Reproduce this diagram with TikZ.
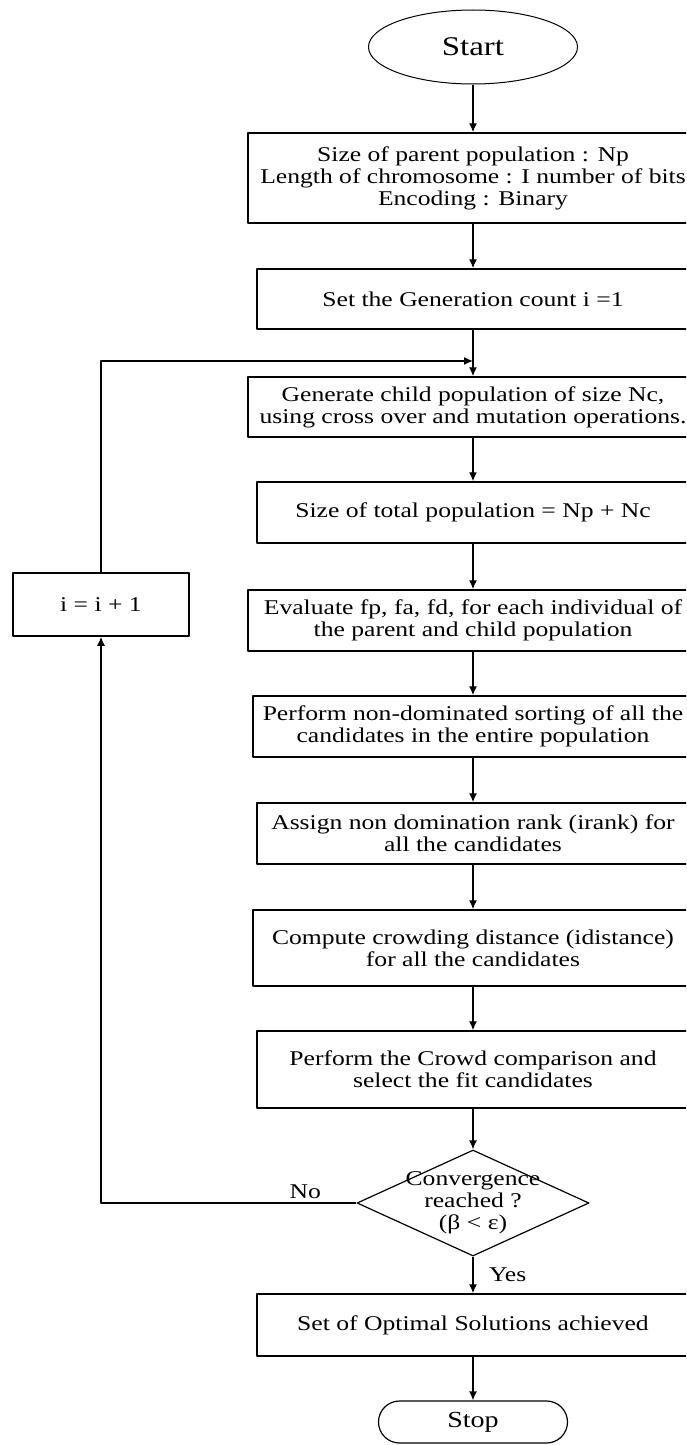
\documentclass[tikz,border=0pt]{standalone}
\usepackage{fontspec}
\setmainfont{Liberation Serif}[FakeStretch=1.22]
\usetikzlibrary{shapes.geometric,arrows.meta}

\begin{document}
\begin{tikzpicture}[x=1pt,y=1pt,>={Latex[length=9pt,width=8pt]},line join=round,
	font=\fontsize{21}{22}\selectfont,
	box/.style={draw,line width=1.5pt,align=center,inner sep=0pt},
	flow/.style={->,line width=1.4pt}]
	\useasboundingbox (0,0) rectangle (686,-1445);
	\clip (0,0) rectangle (686,-1445);
	\def\cx{473}
	\node[draw,ellipse,line width=1pt,minimum width=209,minimum height=74,inner sep=0pt,font=\fontsize{27}{28}\selectfont] (start) at (\cx,-47) {Start};
	\node[box,minimum width=450,minimum height=90] (params) at (\cx,-178) {Size of parent population : Np\\Length of chromosome : I number of bits\\Encoding : Binary};
	\node[box,minimum width=432,minimum height=60] (gencount) at (\cx,-299) {Set the Generation count i =1};
	\node[box,minimum width=450,minimum height=60] (child) at (\cx,-407) {Generate child population of size Nc,\\using cross over and mutation operations.};
	\node[box,minimum width=432,minimum height=61] (total) at (\cx,-512.5) {Size of total population = Np + Nc};
	\node[box,minimum width=450,minimum height=61] (eval) at (\cx,-620.5) {Evaluate fp, fa, fd, for each individual of\\the parent and child population};
	\node[box,minimum width=440,minimum height=61] (sort) at (\cx,-726.5) {Perform non-dominated sorting of all the\\candidates in the entire population};
	\node[box,minimum width=432,minimum height=61] (rank) at (\cx,-833.5) {Assign non domination rank (irank) for\\all the candidates};
	\node[box,minimum width=440,minimum height=76] (crowd) at (\cx,-948) {Compute crowding distance (idistance)\\for all the candidates};
	\node[box,minimum width=432,minimum height=77] (select) at (\cx,-1069.5) {Perform the Crowd comparison and\\select the fit candidates};
	\node[draw,diamond,line width=1.2pt,minimum width=232,minimum height=106,inner sep=0pt] (conv) at (\cx,-1203) {};
	\node[align=center,inner sep=0pt] (convtext) at (conv) {Convergence\\reached ?\\(β < ε)};
	\node[box,minimum width=432,minimum height=62] (optimal) at (\cx,-1325) {Set of Optimal Solutions achieved};
	\node[draw,line width=1.2pt,rounded corners=21pt,minimum width=189,minimum height=42,inner sep=0pt,font=\fontsize{23}{24}\selectfont] (stop) at (\cx,-1422) {Stop};
	\node[box,minimum width=176,minimum height=63] (incr) at (101,-604.5) {i = i + 1};
	\coordinate (loopin) at (\cx,-361);
	\draw[flow] (start) -- (params);
	\draw[flow] (params) -- (gencount);
	\draw[flow] (gencount) -- (child);
	\draw[flow] (child) -- (total);
	\draw[flow] (total) -- (eval);
	\draw[flow] (eval) -- (sort);
	\draw[flow] (sort) -- (rank);
	\draw[flow] (rank) -- (crowd);
	\draw[flow] (crowd) -- (select);
	\draw[flow] (select) -- (conv);
	\draw[flow] (conv) -- (optimal) node[midway,right,xshift=12pt]{Yes};
	\draw[flow] (optimal) -- (stop);
	\draw[flow] (conv.west) -| (incr.south) node[pos=0.1,above]{No};
	\draw[flow] (incr.north) |- (loopin);
\end{tikzpicture}
\end{document}
